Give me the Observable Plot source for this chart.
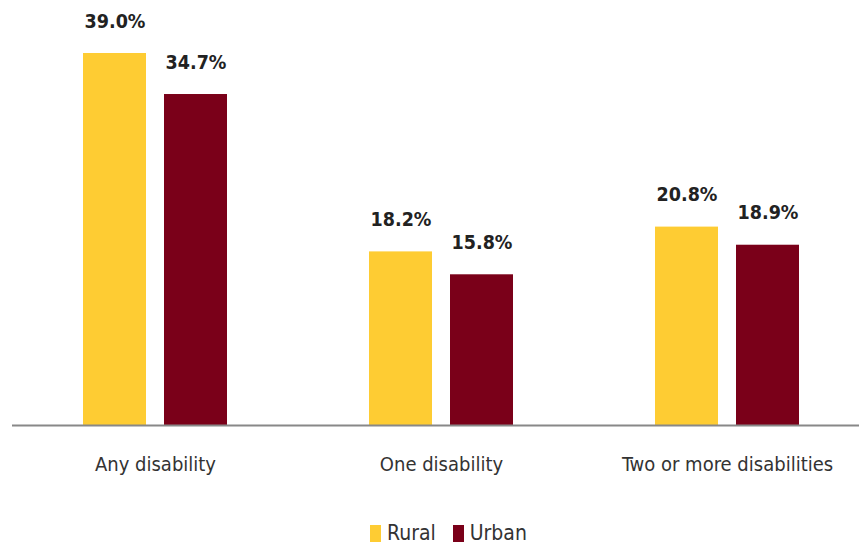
<!DOCTYPE html>
<html>
<head>
<meta charset="utf-8">
<script src="https://cdn.jsdelivr.net/npm/d3@7"></script>
<script src="https://cdn.jsdelivr.net/npm/@observablehq/plot@0.6"></script>
<style>
  body { margin: 0; background: #fff; font-family: "Liberation Sans Narrow", "DejaVu Sans Condensed", sans-serif; position: relative; width: 859px; height: 546px; overflow: hidden; }
  #legend { position: absolute; left: 370px; top: 521px; display: flex; align-items: center; gap: 17px; font-size: 21px; line-height: 24px; color: #333; }
  #legend .item { display: flex; align-items: center; gap: 6px; }
  #legend .sw { width: 11px; height: 17px; display: inline-block; }
</style>
</head>
<body>
<div id="chart"></div>
<div id="legend"></div>
<script>
const categories = ["Any disability", "One disability", "Two or more disabilities"];
const series = ["Rural", "Urban"];
const rural = [39.0, 18.2, 20.8];
const urban = [34.7, 15.8, 18.9];
const colors = ["#FECC33", "#7A0019"];

const data = [];
categories.forEach((c, i) => {
  data.push({category: c, area: "Rural", value: rural[i]});
  data.push({category: c, area: "Urban", value: urban[i]});
});

const H = 506;
const chart = Plot.plot({
  width: 859,
  height: H,
  marginTop: 53,
  marginBottom: H - 425,
  marginLeft: 12,
  marginRight: -11,
  style: {fontFamily: '"Liberation Sans Narrow", "DejaVu Sans Condensed", sans-serif', color: "#333", background: "#fff"},
  fx: {domain: categories, padding: 0, label: null, axis: "bottom", tickSize: 0, tickPadding: 31},
  x: {domain: series, paddingInner: 0.22, paddingOuter: 0.854, axis: null},
  y: {domain: [0, 39], axis: null},
  color: {domain: series, range: colors},
  marks: [
    Plot.barY(data, {fx: "category", x: "area", y: "value", fill: "area"}),
    Plot.text(data, {fx: "category", x: "area", y: "value", text: d => d.value.toFixed(1) + "%", dy: -32, fontSize: 19.5, fontWeight: "bold", fill: "#222"}),
    Plot.ruleY([0], {stroke: "#888", strokeWidth: 2})
  ]
});
chart.querySelectorAll('g[aria-label="fx-axis tick label"]').forEach(el => { el.style.fontSize = "20px"; });
document.getElementById("chart").appendChild(chart);

const legend = document.getElementById("legend");
series.forEach((s, i) => {
  const item = document.createElement("span");
  item.className = "item";
  const sw = document.createElement("span");
  sw.className = "sw";
  sw.style.background = colors[i];
  const t = document.createElement("span");
  t.textContent = s;
  item.appendChild(sw); item.appendChild(t);
  legend.appendChild(item);
});
</script>
</body>
</html>
